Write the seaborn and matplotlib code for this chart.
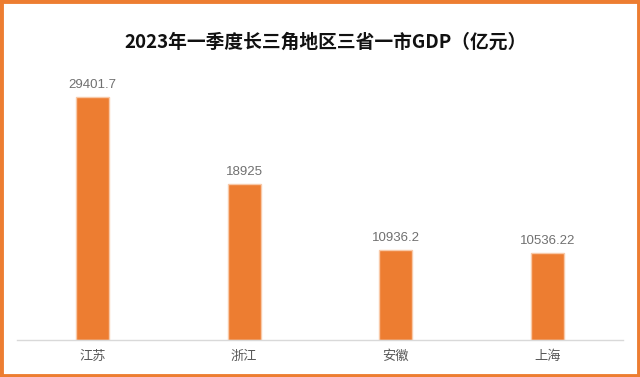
import matplotlib
matplotlib.use("Agg")
import matplotlib.pyplot as plt
import seaborn as sns
import pandas as pd
from matplotlib.patches import Rectangle

categories = ["江苏", "浙江", "安徽", "上海"]
values = [29401.7, 18925, 10936.2, 10536.22]
value_labels = ["29401.7", "18925", "10936.2", "10536.22"]
title = "2023年一季度长三角地区三省一市GDP（亿元）"

sns.set_theme(style="white")
plt.rcParams['font.family'] = ['Noto Sans CJK SC', 'DejaVu Sans']

df = pd.DataFrame({"region": categories, "gdp": values})

fig = plt.figure(figsize=(6.4, 3.77), dpi=100)
ax = fig.add_axes([17/640, 1 - 340/377, 606/640, (340 - 50)/377])

sns.barplot(data=df, x="region", y="gdp", ax=ax, color="#ED7D31",
            saturation=1, width=0.22, edgecolor="#F8C9A8", linewidth=1)

ymax = 29401.7 * (340 - 50) / (340 - 97)
ax.set_ylim(0, ymax)
ax.set_xlim(-0.5, 3.5)

for i, (v, lab) in enumerate(zip(values, value_labels)):
    ax.annotate(lab, (i, v), xytext=(0, 4), textcoords="offset points",
                ha="center", va="bottom", fontsize=9.5, color="#707070",
                family=['Liberation Sans', 'DejaVu Sans'])

ax.set_xlabel("")
ax.set_ylabel("")
ax.set_yticks([])
ax.tick_params(axis="x", length=0, pad=7, labelsize=9.5, labelcolor="#595959")
for s in ["top", "left", "right"]:
    ax.spines[s].set_visible(False)
ax.spines["bottom"].set_color("#D9D9D9")
ax.spines["bottom"].set_linewidth(1)

fig.text(326/640, 1 - 42/377, title, ha="center", va="center", fontsize=13.5,
         fontweight="bold", color="#111111")

fig.patches.append(Rectangle((0.002, 0.003), 0.996, 0.994, transform=fig.transFigure,
                             fill=False, edgecolor="#ED7D31", linewidth=3.5))

fig.savefig("out.png", dpi=100)
